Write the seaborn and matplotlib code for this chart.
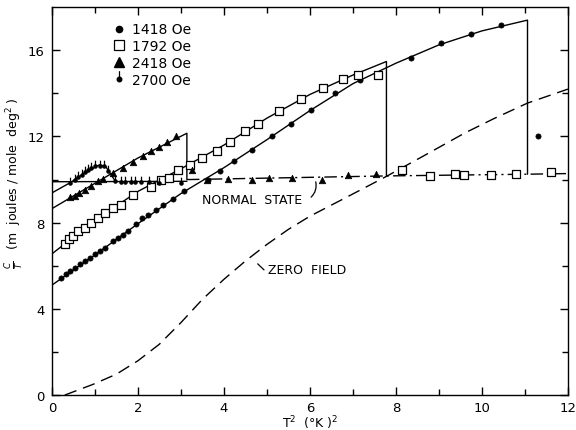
import numpy as np
import matplotlib
matplotlib.use("Agg")
import matplotlib.pyplot as plt
from matplotlib.path import Path
from matplotlib.lines import Line2D
import seaborn as sns

# ---- data: x = T^2 (K^2), y = C/T (mJ/mole deg^2) ----
h1418_x = [0.22, 0.34, 0.42, 0.53, 0.65, 0.76, 0.88, 1.0, 1.11, 1.23, 1.42, 1.53, 1.65,
           1.77, 1.96, 2.09, 2.23, 2.42, 2.58, 2.81, 3.08, 3.62, 3.9, 4.24, 4.66, 5.12,
           5.57, 6.03, 6.59, 7.17, 8.36, 9.04, 9.74, 10.45, 11.3]
h1418_y = [5.45, 5.6, 5.75, 5.9, 6.06, 6.22, 6.37, 6.53, 6.68, 6.84, 7.14, 7.3, 7.45,
           7.61, 7.95, 8.2, 8.38, 8.61, 8.84, 9.12, 9.46, 10.0, 10.4, 10.85, 11.39, 12.0,
           12.57, 13.24, 14.04, 14.6, 15.63, 16.32, 16.76, 17.16, 12.04]

h1792_x = [0.3, 0.39, 0.49, 0.61, 0.76, 0.92, 1.07, 1.23, 1.42, 1.61, 1.88, 2.31, 2.54,
           2.72, 2.94, 3.22, 3.5, 3.83, 4.14, 4.49, 4.8, 5.28, 5.8, 6.3, 6.78, 7.13, 7.59,
           8.15, 8.79, 9.38, 9.58, 10.22, 10.8, 11.6]
h1792_y = [6.99, 7.22, 7.38, 7.61, 7.76, 7.99, 8.22, 8.45, 8.68, 8.84, 9.3, 9.66, 9.96,
           10.07, 10.43, 10.69, 11.0, 11.34, 11.75, 12.27, 12.58, 13.19, 13.75, 14.27, 14.66,
           14.86, 14.86, 10.46, 10.15, 10.26, 10.19, 10.2, 10.28, 10.35]

h2418_x = [0.42, 0.53, 0.63, 0.76, 0.92, 1.07, 1.19, 1.42, 1.65, 1.88, 2.11, 2.31, 2.5,
           2.68, 2.89, 3.25, 3.6, 4.1, 4.66, 5.05, 5.59, 6.27, 6.88, 7.53]
h2418_y = [9.18, 9.26, 9.38, 9.54, 9.72, 9.92, 10.05, 10.31, 10.54, 10.8, 11.08, 11.31,
           11.51, 11.74, 12.0, 10.46, 10.0, 10.03, 10.0, 10.08, 10.08, 10.0, 10.23, 10.28]

h2700_x = [0.42, 0.53, 0.61, 0.69, 0.76, 0.84, 0.92, 1.01, 1.11, 1.21, 1.3, 1.48, 1.6,
           1.71, 1.83, 1.94, 2.07, 2.27, 2.5, 3.0]
h2700_y = [9.84, 10.0, 10.12, 10.23, 10.35, 10.46, 10.54, 10.62, 10.65, 10.62, 10.38,
           9.92, 9.89, 9.89, 9.89, 9.89, 9.88, 9.88, 9.86, 9.86]

# drawn curves (knots, including the vertical jumps)
c1418_x = [0, 1, 2, 3, 4, 5, 6, 7, 8, 9, 10, 11.06, 11.06]
c1418_y = [5.1, 6.5, 7.95, 9.35, 10.55, 11.85, 13.2, 14.45, 15.4, 16.25, 16.9, 17.4, 10.25]
c1792_x = [0, 1, 2, 3, 4, 5, 6, 7, 7.78, 7.78]
c1792_y = [6.55, 8.1, 9.45, 10.5, 11.6, 12.85, 13.95, 14.85, 15.48, 10.17]
c2418_x = [0, 2, 3.14, 3.14]
c2418_y = [8.65, 11.0, 12.15, 10.0]
c2700_x = [0, 0.42, 0.8, 1.1, 1.25, 1.35, 1.48]
c2700_y = [9.38, 9.85, 10.35, 10.68, 10.62, 10.3, 9.92]

normal_solid_x = [0, 3.14]
normal_solid_y = [9.9, 9.92]
normal_x = [3.14, 7.78, 11.06, 12]
normal_y = [10.0, 10.17, 10.25, 10.28]

zero_x = [0.3, 0.96, 1.5, 2.0, 2.5, 3.0, 3.5, 4.0, 4.5, 5.0, 5.5, 6.0, 6.9, 7.78, 8.6,
          9.6, 10.3, 11.06, 12.0]
zero_y = [0.0, 0.5, 0.97, 1.59, 2.36, 3.36, 4.44, 5.37, 6.22, 6.99, 7.69, 8.3, 9.23,
          10.15, 11.05, 12.16, 12.85, 13.55, 14.2]

labels = ["1418 Oe", "1792 Oe", "2418 Oe", "2700 Oe"]


def draw():
    sns.set_style("ticks")
    plt.rcParams["font.family"] = ["DejaVu Sans"]
    plt.rcParams["mathtext.fontset"] = "dejavusans"
    for key in ["text.color", "axes.labelcolor", "xtick.color", "ytick.color",
                "axes.edgecolor"]:
        plt.rcParams[key] = "black"

    fig = plt.figure(figsize=(5.76, 4.31), dpi=100)
    ax = fig.add_axes([0.090, 0.081, 0.896, 0.900])

    k = "black"
    lw = 1.0
    # curves
    for cx, cy in [(c1418_x, c1418_y), (c1792_x, c1792_y), (c2418_x, c2418_y),
                   (c2700_x, c2700_y), (normal_solid_x, normal_solid_y)]:
        sns.lineplot(x=cx, y=cy, ax=ax, color=k, lw=lw, sort=False, estimator=None)
    sns.lineplot(x=normal_x, y=normal_y, ax=ax, color=k, lw=lw, sort=False,
                 estimator=None, linestyle=(0, (9, 3, 1.5, 3)))
    sns.lineplot(x=zero_x, y=zero_y, ax=ax, color=k, lw=lw, sort=False,
                 estimator=None, linestyle=(0, (9, 5)))

    # custom marker for 2700 Oe: dot with a vertical stroke above
    circ = Path.unit_circle()
    circ = Path(circ.vertices * 0.28, circ.codes)
    stick = Path([(0, 0), (0, 1)], [Path.MOVETO, Path.LINETO])
    pin = Path.make_compound_path(stick, circ)

    sns.scatterplot(x=h1418_x, y=h1418_y, ax=ax, marker="o", s=14, color=k,
                    edgecolor=k, linewidth=0.5, zorder=3)
    sns.scatterplot(x=h1792_x, y=h1792_y, ax=ax, marker="s", s=28, facecolor="white",
                    edgecolor=k, linewidth=0.9, zorder=3)
    sns.scatterplot(x=h2418_x, y=h2418_y, ax=ax, marker="^", s=22, color=k,
                    edgecolor=k, linewidth=0.5, zorder=3)
    sns.scatterplot(x=h2700_x, y=h2700_y, ax=ax, marker=pin, s=70, color=k,
                    edgecolor=k, linewidth=0.9, zorder=3)

    # annotations
    ax.text(3.5, 9.07, "NORMAL  STATE", fontsize=9, ha="left", va="center")
    ax.annotate("", xy=(6.12, 10.02), xytext=(5.98, 9.1),
                arrowprops=dict(arrowstyle="-", lw=0.9, color=k,
                                connectionstyle="arc3,rad=0.35"))
    ax.text(5.02, 5.83, "ZERO  FIELD", fontsize=9, ha="left", va="center")
    ax.annotate("", xy=(4.74, 6.18), xytext=(4.98, 5.72),
                arrowprops=dict(arrowstyle="-", lw=0.9, color=k))

    # legend
    handles = [
        Line2D([0], [0], ls="", marker="o", ms=4.5, color=k),
        Line2D([0], [0], ls="", marker="s", ms=6.5, mfc="white", mec=k, mew=0.9),
        Line2D([0], [0], ls="", marker="^", ms=6.5, color=k),
        Line2D([0], [0], ls="", marker=pin, ms=12, color=k, mew=0.9),
    ]
    ax.legend(handles, labels, loc="upper left", bbox_to_anchor=(0.105, 0.975),
              frameon=False, fontsize=10, handlelength=1.0, handletextpad=0.5,
              labelspacing=0.2, borderaxespad=0)

    ax.set_xlim(0, 12)
    ax.set_ylim(0, 18)
    ax.set_xticks(np.arange(0, 13, 2))
    ax.set_xticks(np.arange(1, 12, 2), minor=True)
    ax.set_yticks(np.arange(0, 17, 4))
    ax.set_yticks(np.arange(2, 18, 4), minor=True)
    ax.tick_params(which="both", direction="in", top=True, right=True,
                   labelsize=9.5, width=1, color=k)
    ax.tick_params(axis="y", pad=5)
    ax.tick_params(axis="x", pad=4)
    ax.tick_params(which="major", length=6)
    ax.tick_params(which="minor", length=4)
    for sp in ax.spines.values():
        sp.set_visible(True)
        sp.set_linewidth(1.0)
        sp.set_color(k)

    ax.set_xlabel(r"T$^2$  ($\degree$K )$^2$", fontsize=9, labelpad=0)
    ax.set_ylabel(r"$\frac{C}{T}$   (m  joules / mole  deg$^2$ )", fontsize=9)
    ax.yaxis.set_label_coords(-0.052, 0.55)

    fig.savefig("out.png", dpi=100)


if __name__ == "__main__":
    draw()
